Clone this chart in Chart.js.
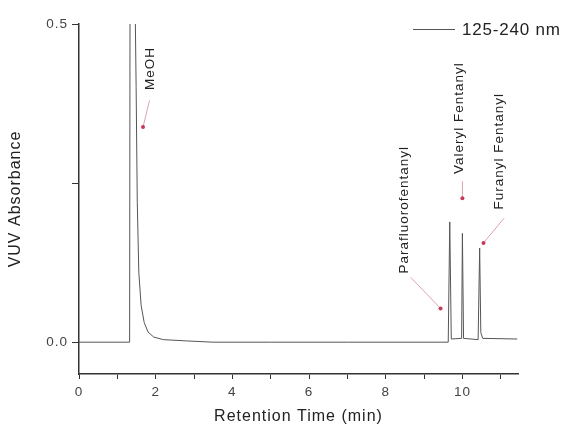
<!DOCTYPE html>
<html>
<head>
<meta charset="utf-8">
<script src="https://cdn.jsdelivr.net/npm/chart.js@4.4.1/dist/chart.umd.min.js"></script>
<style>
  html, body { margin: 0; padding: 0; background: #fff; overflow: hidden; }
  canvas { display: block; }
</style>
</head>
<body>
<canvas id="myChart" width="562" height="426"></canvas>
<script>
// retention time (min) and VUV absorbance
let retentionTime = [0, 1.32, 1.345, 1.44, 1.47, 1.49, 1.52, 1.56, 1.62, 1.70, 1.80, 1.95, 2.2, 2.8, 3.5, 5.0, 7.0, 9.63,
  9.67, 9.71, 9.98, 10.0, 10.03, 10.41, 10.45, 10.48, 10.53, 11.43];
let absorbance = [0, 0, 1.2, 1.2, 0.5, 0.40, 0.22, 0.11, 0.058, 0.031, 0.016, 0.008, 0.004, 0.002, 0.0, 0.0, 0.0, 0.0,
  0.189, 0.005, 0.006, 0.171, 0.006, 0.004, 0.148, 0.015, 0.006, 0.005];
let seriesName = "125-240 nm";

let xTicks = [0, 1, 2, 3, 4, 5, 6, 7, 8, 9, 10, 11];
let yTicks = [0, 0.25, 0.5];

// peak labels: text, label centre (x, y) and arrow from (x1, y1) to the dot at (x2, y2), all in data units
let peakNames = ["MeOH", "Parafluorofentanyl", "Valeryl Fentanyl", "Furanyl Fentanyl"];
let labelX = [1.86, 8.49, 9.92, 10.96];
let labelY = [0.43, 0.208, 0.352, 0.30];
let arrowX1 = [1.84, 8.65, 10.0, 11.09];
let arrowY1 = [0.38, 0.102, 0.253, 0.195];
let arrowX2 = [1.67, 9.43, 10.0, 10.55];
let arrowY2 = [0.338, 0.053, 0.226, 0.156];

const FONT = "'Liberation Sans', Arial, sans-serif";

// the source figure is stretched sideways, so text gets a little letter spacing
const spacing = {
  id: 'spacing',
  beforeDraw(chart) { chart.ctx.letterSpacing = '1px'; }
};

const peakLabels = {
  id: 'peakLabels',
  afterDatasetsDraw(chart) {
    const c = chart.ctx;
    const xs = chart.scales.x, ys = chart.scales.y;
    c.save();
    peakNames.forEach((name, i) => {
      // arrow line
      c.strokeStyle = '#dba4ac';
      c.lineWidth = 1;
      c.beginPath();
      c.moveTo(xs.getPixelForValue(arrowX1[i]), ys.getPixelForValue(arrowY1[i]));
      c.lineTo(xs.getPixelForValue(arrowX2[i]), ys.getPixelForValue(arrowY2[i]));
      c.stroke();
      c.fillStyle = '#c8385a';
      c.beginPath();
      c.arc(xs.getPixelForValue(arrowX2[i]), ys.getPixelForValue(arrowY2[i]), 2, 0, Math.PI * 2);
      c.fill();
      // rotated text
      c.save();
      c.translate(xs.getPixelForValue(labelX[i]), ys.getPixelForValue(labelY[i]));
      c.rotate(-Math.PI / 2);
      c.fillStyle = '#222';
      c.font = '13.5px ' + FONT;
      c.letterSpacing = '1px';
      c.textAlign = 'center';
      c.textBaseline = 'middle';
      c.fillText(name, 0, 0);
      c.restore();
    });
    // legend
    c.strokeStyle = '#555';
    c.lineWidth = 1;
    c.beginPath();
    c.moveTo(413, 29.5);
    c.lineTo(455, 29.5);
    c.stroke();
    c.fillStyle = '#222';
    c.font = '17px ' + FONT;
    c.letterSpacing = '0.8px';
    c.textAlign = 'left';
    c.textBaseline = 'middle';
    c.fillText(seriesName, 462, 30);
    c.restore();
  }
};

const ctx = document.getElementById('myChart');
new Chart(ctx, {
  type: 'line',
  data: {
    datasets: [{
      label: seriesName,
      data: retentionTime.map((t, i) => ({ x: t, y: absorbance[i] })),
      borderColor: '#555',
      borderWidth: 1,
      pointRadius: 0,
      tension: 0
    }]
  },
  options: {
    responsive: false,
    animation: false,
    devicePixelRatio: 1,
    layout: { padding: { left: 0, top: 24, right: 44, bottom: 0 } },
    plugins: { legend: { display: false }, tooltip: { enabled: false } },
    scales: {
      x: {
        type: 'linear',
        min: 0,
        max: 11.45,
        afterBuildTicks(scale) { scale.ticks = xTicks.map(v => ({ value: v })); },
        afterFit(scale) { scale.height = 52; },
        border: { color: '#333', width: 1.5 },
        grid: { drawOnChartArea: false, tickLength: 5, color: '#333' },
        ticks: {
          color: '#444',
          font: { family: FONT, size: 13.5 },
          padding: 5,
          maxRotation: 0,
          callback: v => (v % 2 === 0 ? String(v) : '')
        },
        title: {
          display: true,
          text: 'Retention Time (min)',
          color: '#222',
          font: { family: FONT, size: 16 },
          padding: { top: 3, bottom: 0 }
        }
      },
      y: {
        min: -0.05,
        max: 0.5,
        afterBuildTicks(scale) { scale.ticks = yTicks.map(v => ({ value: v })); },
        afterFit(scale) { scale.width = 79; },
        border: { color: '#333', width: 1.5 },
        grid: { drawOnChartArea: false, tickLength: 7, color: '#333' },
        ticks: {
          color: '#444',
          font: { family: FONT, size: 13.5 },
          padding: 4,
          callback: v => (v === 0.25 ? '' : v.toFixed(1))
        },
        title: {
          display: true,
          text: 'VUV Absorbance',
          color: '#222',
          font: { family: FONT, size: 16 },
          padding: { top: 6, bottom: 10 }
        }
      }
    }
  },
  plugins: [spacing, peakLabels]
});
</script>
</body>
</html>
